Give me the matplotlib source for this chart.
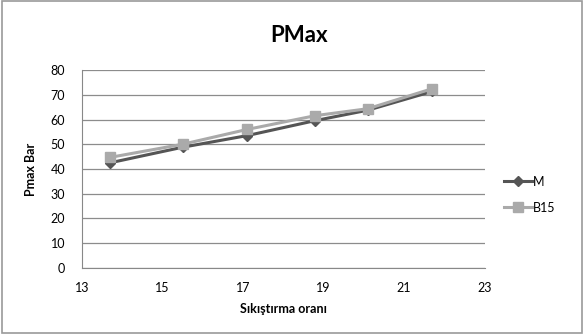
import matplotlib
matplotlib.use("Agg")
import matplotlib.pyplot as plt
from matplotlib.patches import Rectangle

x_vals = [13.7, 15.5, 17.1, 18.8, 20.1, 21.7]
m_vals = [42.5, 48.8, 53.5, 59.6, 63.8, 71.4]
b15_vals = [44.7, 50.0, 56.0, 61.6, 64.4, 72.5]
series_names = ["M", "B15"]
x_ticks = [13, 15, 17, 19, 21, 23]
y_ticks = [0, 10, 20, 30, 40, 50, 60, 70, 80]

plt.rcParams['font.family'] = ['Lato', 'DejaVu Sans']
fig = plt.figure(figsize=(5.84, 3.34), dpi=100)
fig.patches.append(Rectangle((0.004, 0.004), 0.992, 0.992, transform=fig.transFigure,
                             fill=False, edgecolor='#9a9a9a', linewidth=1.2))
ax = fig.add_axes([0.140, 0.198, 0.690, 0.592])

ax.plot(x_vals, m_vals, color='#555555', marker='D', markersize=5, linewidth=2.2, label=series_names[0], zorder=3)
ax.plot(x_vals, b15_vals, color='#aaaaaa', marker='s', markersize=7, linewidth=2.2, label=series_names[1], zorder=4)

ax.set_xlim(13, 23)
ax.set_ylim(0, 80)
ax.set_xticks(x_ticks)
ax.set_yticks(y_ticks)
ax.tick_params(axis='both', labelsize=9, length=0)
ax.tick_params(axis='x', pad=10)
ax.tick_params(axis='y', pad=12)
ax.yaxis.grid(True, color='#8c8c8c', linewidth=0.9)
ax.set_axisbelow(True)
for s in ['top', 'right']:
    ax.spines[s].set_visible(False)
ax.spines['left'].set_color('#888888')
ax.spines['bottom'].set_color('#888888')

fig.text(0.512, 0.895, "PMax", fontsize=16, fontweight='bold', ha='center', va='center')
ax.set_xlabel("Sıkıştırma oranı", fontsize=9, fontweight='bold', labelpad=7)
ax.set_ylabel("Pmax Bar", fontsize=9, fontweight='bold', labelpad=10)

ax.legend(loc='center left', bbox_to_anchor=(1.02, 0.37), frameon=False, fontsize=9,
          handlelength=2.2, handletextpad=0.1, labelspacing=1.1)

fig.savefig("out.png", dpi=100)
